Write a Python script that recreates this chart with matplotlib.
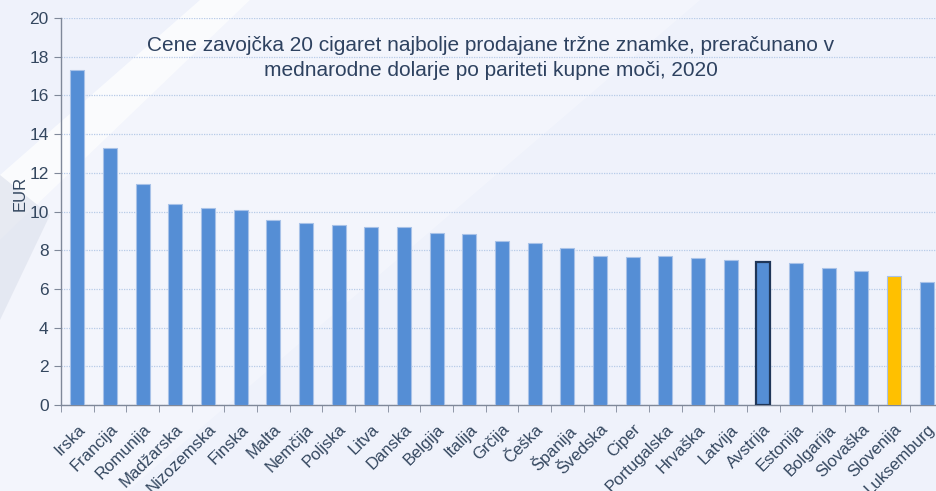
import matplotlib.pyplot as plt
from matplotlib.patches import Polygon
import numpy as np

plt.rcParams['font.family'] = ['Liberation Sans', 'DejaVu Sans']

countries = ['Irska', 'Francija', 'Romunija', 'Madžarska', 'Nizozemska', 'Finska',
             'Malta', 'Nemčija', 'Poljska', 'Litva', 'Danska', 'Belgija', 'Italija',
             'Grčija', 'Češka', 'Španija', 'Švedska', 'Ciper', 'Portugalska',
             'Hrvaška', 'Latvija', 'Avstrija', 'Estonija', 'Bolgarija', 'Slovaška',
             'Slovenija', 'Luksemburg']
prices = [17.30, 13.26, 11.43, 10.40, 10.20, 10.09, 9.54, 9.43, 9.29, 9.22, 9.20,
          8.89, 8.82, 8.50, 8.36, 8.13, 7.71, 7.67, 7.71, 7.60, 7.49, 7.40, 7.36,
          7.08, 6.91, 6.67, 6.36]

title = ('Cene zavojčka 20 cigaret najbolje prodajane tržne znamke, preračunano v\n'
         'mednarodne dolarje po pariteti kupne moči, 2020')

text_col = '#34475f'
bar_col = '#558ed5'
axis_col = '#7f8899'

fig = plt.figure(figsize=(9.36, 4.91), dpi=100)
fig.patch.set_facecolor('#eff2fb')

# soft background shapes, drawn in pixel coords on a hidden axes
W, H = 936, 491
bg = fig.add_axes([0, 0, 1, 1], zorder=0)
bg.set_xlim(0, W)
bg.set_ylim(H, 0)
bg.axis('off')
bg.add_patch(Polygon([(250, 0), (700, 0), (0, 600), (0, 240)],
                     facecolor='white', alpha=0.3, edgecolor='none'))
bg.add_patch(Polygon([(200, 0), (250, 0), (0, 240), (0, 175)],
                     facecolor='white', alpha=0.7, edgecolor='none'))
bg.add_patch(Polygon([(0, 175), (50, 215), (0, 320)],
                     facecolor='#dfe3ee', alpha=0.7, edgecolor='none'))

ax = fig.add_axes([61 / W, 1 - 405 / H, 882 / W, 387 / H], zorder=1)
ax.patch.set_alpha(0)

x = np.arange(len(countries))
colors = [bar_col] * len(countries)
edges = ['#a8c2e8'] * len(countries)
widths = [0.8] * len(countries)
i_at = countries.index('Avstrija')
i_si = countries.index('Slovenija')
colors[i_si] = '#ffc000'
edges[i_at] = '#1f3658'
widths[i_at] = 1.6
ax.bar(x, prices, width=0.43, color=colors, edgecolor=edges, linewidth=widths, zorder=3)

ax.set_xlim(-0.5, len(countries) - 0.5)
ax.set_ylim(0, 20)
ax.set_yticks(np.arange(0, 21, 2))
ax.grid(axis='y', color='#b7cbe8', linestyle=(0, (1, 1)), linewidth=0.9, zorder=1)

for s in ['top', 'right']:
    ax.spines[s].set_visible(False)
for s in ['left', 'bottom']:
    ax.spines[s].set_color(axis_col)
    ax.spines[s].set_linewidth(1.0)

ax.set_xticks(x)
ax.set_xticklabels(countries, rotation=45, ha='right', rotation_mode='anchor',
                   fontsize=12, color=text_col)
ax.tick_params(axis='x', which='major', length=0, pad=12)
ax.set_xticks(np.arange(-0.5, len(countries), 1), minor=True)
ax.tick_params(axis='x', which='minor', length=5, color=axis_col, direction='out')
ax.tick_params(axis='y', length=5, color=axis_col, labelsize=12.5, labelcolor=text_col, pad=4)

fig.text(20 / W, 1 - 193 / H, 'EUR', rotation=90, ha='center', va='center',
         fontsize=12, color=text_col)
fig.text(491 / W, 1 - 58 / H, title, ha='center', va='center', fontsize=15,
         color='#2e4260', linespacing=1.35)

fig.savefig('out.png', dpi=100, facecolor=fig.get_facecolor())
